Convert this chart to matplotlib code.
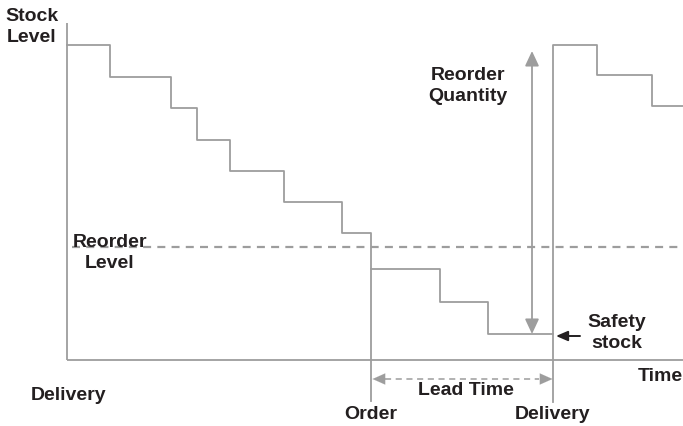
import matplotlib
matplotlib.use("Agg")
import matplotlib.pyplot as plt

# stock level over time (arbitrary units), step changes at these times
times = [0, 4.3, 10.4, 13.0, 16.3, 21.7, 27.5, 30.4, 37.3, 42.1, 48.6, 53.0, 58.5, 61.6]
levels = [31.5, 28.35, 25.2, 22.0, 18.9, 15.8, 12.7, 9.1, 5.8, 2.6, 31.5, 28.5, 25.4, 25.4]

reorder_level = 11.3
safety_stock = 2.6
order_time = 30.4
delivery_time = 48.6
max_level = 31.5
quantity_x = 46.5

line_col = '#9d9d9d'
text_col = '#231f20'
font = dict(family=['Liberation Sans', 'DejaVu Sans'], fontweight='bold', fontsize=14, color=text_col)

fig = plt.figure(figsize=(6.83, 4.27), dpi=100)
ax = fig.add_axes([0, 0, 1, 1])
ax.set_xlim(-6.7, 61.6)
ax.set_ylim(-6.6, 36.1)
ax.axis('off')

# axes lines
ax.plot([0, 0], [0, 33.7], color=line_col, lw=1.3, solid_capstyle='butt')
ax.plot([0, times[-1]], [0, 0], color=line_col, lw=1.3, solid_capstyle='butt')

# stock curve
ax.step(times, levels, where='post', color=line_col, lw=1.3)

# order / delivery markers extending below axis
ax.plot([order_time, order_time], [levels[7], -4.1], color=line_col, lw=1.3)
ax.plot([delivery_time, delivery_time], [safety_stock, -4.2], color=line_col, lw=1.3)

# reorder level dashed line
ax.plot([0.5, times[-1]], [reorder_level, reorder_level], color=line_col, lw=1.6,
        dashes=(3.6, 2.8))

# reorder quantity double arrow
ax.annotate('', xy=(quantity_x, max_level - 0.6), xytext=(quantity_x, safety_stock),
            arrowprops=dict(arrowstyle='<|-|>,head_length=0.9,head_width=0.42',
                            mutation_scale=10, color=line_col, lw=1.3,
                            shrinkA=0, shrinkB=0))

# lead time dashed arrow
ax.plot([order_time + 1.4, delivery_time - 1.4], [-1.9, -1.9], color=line_col, lw=1.1,
        dashes=(4, 3))
for x0, x1 in [(order_time + 1.5, order_time + 0.15), (delivery_time - 1.5, delivery_time - 0.05)]:
    ax.annotate('', xy=(x1, -1.9), xytext=(x0, -1.9),
                arrowprops=dict(arrowstyle='-|>,head_length=0.9,head_width=0.4',
                                mutation_scale=10, color=line_col, lw=0.1,
                                shrinkA=0, shrinkB=0))

# safety stock arrow
ax.annotate('', xy=(delivery_time + 0.3, safety_stock - 0.2), xytext=(51.3, safety_stock - 0.2),
            arrowprops=dict(arrowstyle='-|>,head_length=0.7,head_width=0.3',
                            mutation_scale=10, color=text_col, lw=1.4,
                            shrinkA=0, shrinkB=0))

# labels
ax.text(-3.5, 33.4, 'Stock\nLevel', ha='center', va='center', linespacing=1.3, **font)
ax.text(4.3, 10.8, 'Reorder\nLevel', ha='center', va='center', linespacing=1.27, **font)
ax.text(40.1, 27.5, 'Reorder\nQuantity', ha='center', va='center', linespacing=1.25, **font)
ax.text(55.0, 2.8, 'Safety\nstock', ha='center', va='center', linespacing=1.25, **font)
ax.text(39.9, -3.0, 'Lead Time', ha='center', va='center', **font)
ax.text(order_time, -5.4, 'Order', ha='center', va='center', **font)
ax.text(delivery_time, -5.4, 'Delivery', ha='center', va='center', **font)
ax.text(times[-1], -1.6, 'Time', ha='right', va='center', **font)
ax.text(0.2, -3.5, 'Delivery', ha='center', va='center', **font)

fig.savefig('out.png', dpi=100)
